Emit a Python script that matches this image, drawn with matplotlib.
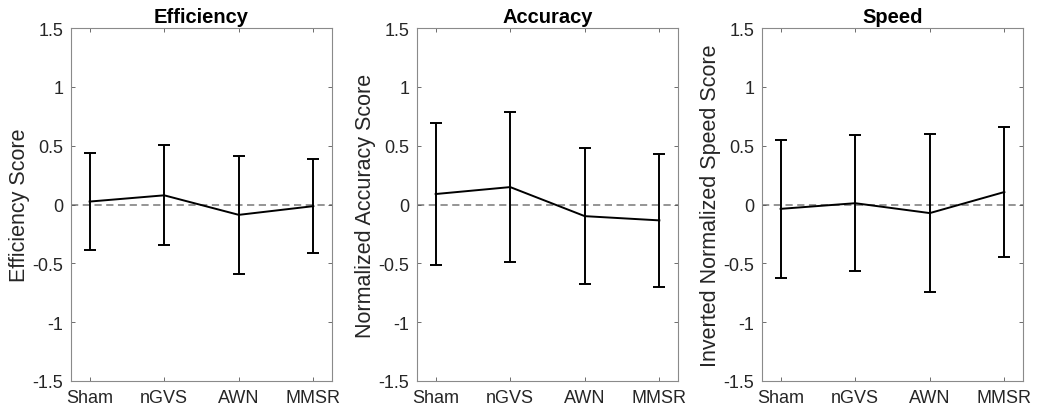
import matplotlib
matplotlib.use('Agg')
import matplotlib.pyplot as plt

plt.rcParams['font.family'] = ['Liberation Sans', 'DejaVu Sans']

conditions = ['Sham', 'nGVS', 'AWN', 'MMSR']

efficiency_mean = [0.025, 0.078, -0.088, -0.014]
efficiency_err = [0.41, 0.426, 0.50, 0.40]

accuracy_mean = [0.089, 0.148, -0.099, -0.135]
accuracy_err = [0.60, 0.64, 0.575, 0.566]

speed_mean = [-0.037, 0.011, -0.073, 0.106]
speed_err = [0.585, 0.58, 0.674, 0.55]

titles = ['Efficiency', 'Accuracy', 'Speed']
ylabels = ['Efficiency Score', 'Normalized Accuracy Score', 'Inverted Normalized Speed Score']
yticks = [-1.5, -1, -0.5, 0, 0.5, 1, 1.5]
ytick_labels = ['-1.5', '-1', '-0.5', '0', '0.5', '1', '1.5']

means = [efficiency_mean, accuracy_mean, speed_mean]
errs = [efficiency_err, accuracy_err, speed_err]

fig = plt.figure(figsize=(10.37, 4.14), dpi=100)
lefts = [71 / 1037, 417 / 1037, 762 / 1037]
w = 261 / 1037
b = 1 - 382 / 414
h = 353 / 414

xpos = list(range(1, len(conditions) + 1))
for i in range(3):
    ax = fig.add_axes([lefts[i], b, w, h])
    ax.axhline(0, color='#8c8c8c', linestyle=(0, (4, 2.5)), linewidth=1.3, zorder=1)
    ax.errorbar(xpos, means[i], yerr=errs[i], color='black', linewidth=1.4,
                elinewidth=1.4, capsize=4.5, capthick=1.4, zorder=3)
    ax.set_xlim(0.75, 4.25)
    ax.set_ylim(-1.5, 1.5)
    ax.set_xticks(xpos)
    ax.set_xticklabels(conditions)
    ax.set_yticks(yticks)
    ax.set_yticklabels(ytick_labels)
    ax.tick_params(direction='in', length=3, width=0.6, colors='#555555',
                   labelcolor='#262626', labelsize=13, top=True, right=True)
    ax.tick_params(axis='y', pad=5.5)
    ax.tick_params(axis='x', pad=6)
    for s in ax.spines.values():
        s.set_color('#8a8a8a')
        s.set_linewidth(0.8)
    ax.set_title(titles[i], fontsize=14.5, fontweight='bold', pad=4)
    ax.set_ylabel(ylabels[i], fontsize=15.5, color='#262626', labelpad=2)

fig.savefig('out.png', dpi=100)
